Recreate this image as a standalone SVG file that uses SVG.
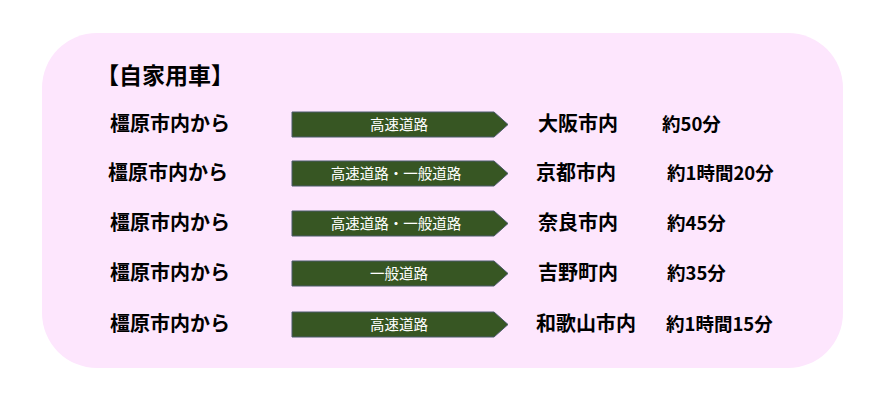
<svg xmlns="http://www.w3.org/2000/svg" width="883" height="405" viewBox="0 0 883 405">
<style>
text{font-family:"Noto Sans CJK JP","Noto Sans",sans-serif;font-weight:bold;fill:#000}
.l{font-size:20px}
.t{font-size:18.5px}
.a{fill:#375623;stroke:#4a5a6a;stroke-width:1}
.at{font-size:14.5px;fill:#fff;text-anchor:middle;font-weight:normal}
</style>
<rect x="0" y="0" width="883" height="405" fill="#fff"/>
<rect x="42" y="33" width="801" height="335" rx="55" fill="#fde6fd"/>
<text x="96" y="84" style="font-size:23px">【自家用車】</text>
<g id="connectors">
<g id="a1"><path class="a" d="M292 112H494L508 124.5L494 137H292Z"/><text class="at" x="399" y="130">高速道路</text></g>
<g id="a2"><path class="a" d="M292 161H494L508 173.5L494 186H292Z"/><text class="at" x="396" y="179">高速道路・一般道路</text></g>
<g id="a3"><path class="a" d="M292 211H494L508 223.5L494 236H292Z"/><text class="at" x="396" y="229">高速道路・一般道路</text></g>
<g id="a4"><path class="a" d="M292 261H494L508 273.5L494 286H292Z"/><text class="at" x="399" y="279">一般道路</text></g>
<g id="a5"><path class="a" d="M292 312H494L508 324.5L494 337H292Z"/><text class="at" x="399" y="330">高速道路</text></g>
</g>
<g id="r1"><text class="l" x="110" y="131">橿原市内から</text><text class="l" x="538" y="131">大阪市内</text><text class="t" x="662" y="131">約50分</text></g>
<g id="r2"><text class="l" x="108" y="180">橿原市内から</text><text class="l" x="536" y="180">京都市内</text><text class="t" x="667" y="180">約1時間20分</text></g>
<g id="r3"><text class="l" x="110" y="230">橿原市内から</text><text class="l" x="538" y="230">奈良市内</text><text class="t" x="667" y="230">約45分</text></g>
<g id="r4"><text class="l" x="110" y="280">橿原市内から</text><text class="l" x="538" y="280">吉野町内</text><text class="t" x="667" y="280">約35分</text></g>
<g id="r5"><text class="l" x="110" y="331">橿原市内から</text><text class="l" x="536" y="331">和歌山市内</text><text class="t" x="666" y="331">約1時間15分</text></g>
</svg>
